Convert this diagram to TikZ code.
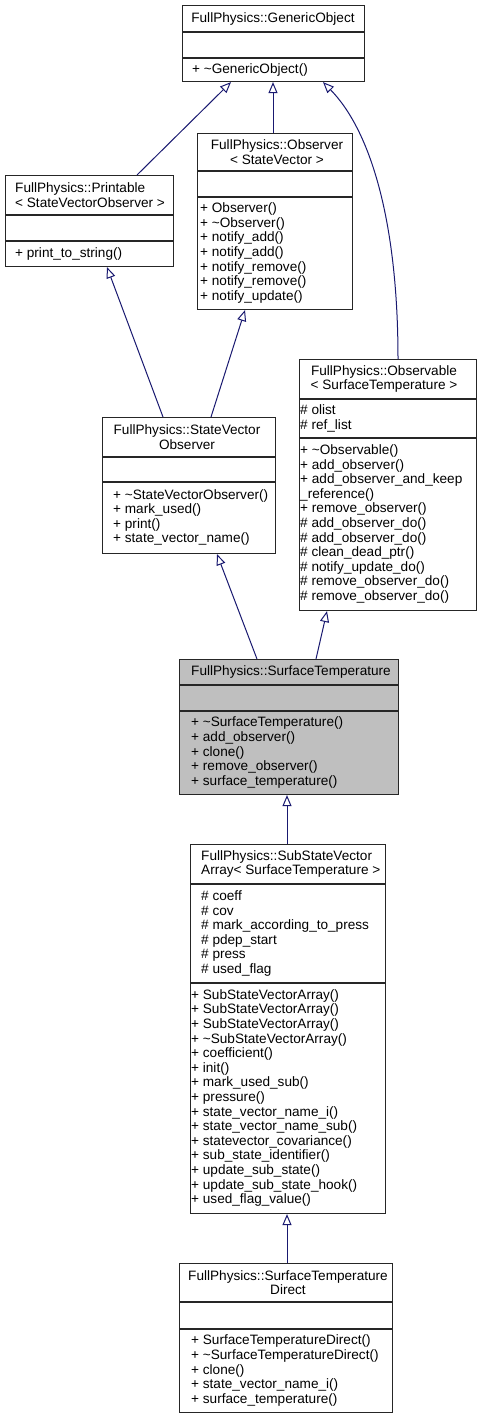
\documentclass[tikz,border=0pt]{standalone}
\usepackage{fontspec}
\setmainfont{Liberation Sans}
\usetikzlibrary{arrows.meta,calc}
\definecolor{edgeblue}{HTML}{191970}
\definecolor{grayfill}{HTML}{BFBFBF}
\begin{document}
\begin{tikzpicture}[x=1pt,y=-1pt,
  cls/.style={draw=black!85, line width=1.1pt, fill=white, inner sep=0pt, anchor=north west},
  sepline/.style={draw=black!85, line width=1.1pt},
  txt/.style={inner sep=0pt, font=\fontsize{13.6}{14.6}\selectfont},
  ltxt/.style={txt, anchor=west, align=left},
  ctxt/.style={txt, align=center},
  inh/.style={draw=edgeblue, line width=1pt, -{Triangle[open, length=11pt, width=9pt]}},
]
\fill[white] (0,0) rectangle (479,1419);
\useasboundingbox (0,0) rectangle (479,1419);

% GenericObject
\node[cls, minimum width=182pt, minimum height=76pt] (go) at (182,5) {};
\draw[sepline] (go.west |- 0,32) -- (go.east |- 0,32);
\draw[sepline] (go.west |- 0,58) -- (go.east |- 0,58);
\node[ctxt] (goT) at (273,18.5) {FullPhysics::GenericObject};
\node[ltxt] (goM) at (192,69.5) {+ \textasciitilde GenericObject()};

% Printable
\node[cls, minimum width=168pt, minimum height=91pt] (pr) at (5,175) {};
\draw[sepline] (pr.west |- 0,215) -- (pr.east |- 0,215);
\draw[sepline] (pr.west |- 0,241) -- (pr.east |- 0,241);
\node[ltxt] (prT) at (15,195) {FullPhysics::Printable\\< StateVectorObserver >};
\node[ltxt] (prM) at (15,253.5) {+ print\_to\_string()};

% Observer
\node[cls, minimum width=155pt, minimum height=176pt] (ob) at (197,133) {};
\draw[sepline] (ob.west |- 0,171) -- (ob.east |- 0,171);
\draw[sepline] (ob.west |- 0,197) -- (ob.east |- 0,197);
\node[ctxt] (obT) at (277,152) {FullPhysics::Observer\\< StateVector >};
\node[ltxt] (obM) at (200,253) {+ Observer()\\+ \textasciitilde Observer()\\+ notify\_add()\\+ notify\_add()\\+ notify\_remove()\\+ notify\_remove()\\+ notify\_update()};

% Observable
\node[cls, minimum width=177pt, minimum height=251pt] (obl) at (299,359) {};
\draw[sepline] (obl.west |- 0,399) -- (obl.east |- 0,399);
\draw[sepline] (obl.west |- 0,438) -- (obl.east |- 0,438);
\node[ctxt] (oblT) at (384,379) {FullPhysics::Observable\\< SurfaceTemperature >};
\node[ltxt] (oblA) at (300,418.5) {\# olist\\\# ref\_list};
\node[ltxt] (oblM) at (300,524) {+ \textasciitilde Observable()\\+ add\_observer()\\+ add\_observer\_and\_keep\\\_reference()\\+ remove\_observer()\\\# add\_observer\_do()\\\# add\_observer\_do()\\\# clean\_dead\_ptr()\\\# notify\_update\_do()\\\# remove\_observer\_do()\\\# remove\_observer\_do()};

% StateVectorObserver
\node[cls, minimum width=173pt, minimum height=136pt] (svo) at (102,417) {};
\draw[sepline] (svo.west |- 0,457) -- (svo.east |- 0,457);
\draw[sepline] (svo.west |- 0,482) -- (svo.east |- 0,482);
\node[ctxt] (svoT) at (187,437) {FullPhysics::StateVector\\Observer};
\node[ltxt] (svoM) at (113,517.5) {+ \textasciitilde StateVectorObserver()\\+ mark\_used()\\+ print()\\+ state\_vector\_name()};

% SurfaceTemperature
\node[cls, fill=grayfill, minimum width=219pt, minimum height=135pt] (st) at (179,659) {};
\draw[sepline] (st.west |- 0,685) -- (st.east |- 0,685);
\draw[sepline] (st.west |- 0,711) -- (st.east |- 0,711);
\node[ctxt] (stT) at (291,672) {FullPhysics::SurfaceTemperature};
\node[ltxt] (stM) at (191,752.5) {+ \textasciitilde SurfaceTemperature()\\+ add\_observer()\\+ clone()\\+ remove\_observer()\\+ surface\_temperature()};

% SubStateVectorArray
\node[cls, minimum width=195pt, minimum height=369pt] (ssva) at (190,844) {};
\draw[sepline] (ssva.west |- 0,884) -- (ssva.east |- 0,884);
\draw[sepline] (ssva.west |- 0,983) -- (ssva.east |- 0,983);
\node[ltxt] (ssvaT) at (201,864) {FullPhysics::SubStateVector\\Array< SurfaceTemperature >};
\node[ltxt] (ssvaA) at (201,933.5) {\# coeff\\\# cov\\\# mark\_according\_to\_press\\\# pdep\_start\\\# press\\\# used\_flag};
\node[ltxt] (ssvaM) at (191,1098) {+ SubStateVectorArray()\\+ SubStateVectorArray()\\+ SubStateVectorArray()\\+ \textasciitilde SubStateVectorArray()\\+ coefficient()\\+ init()\\+ mark\_used\_sub()\\+ pressure()\\+ state\_vector\_name\_i()\\+ state\_vector\_name\_sub()\\+ statevector\_covariance()\\+ sub\_state\_identifier()\\+ update\_sub\_state()\\+ update\_sub\_state\_hook()\\+ used\_flag\_value()};

% SurfaceTemperatureDirect
\node[cls, minimum width=213pt, minimum height=149pt] (std) at (179,1263) {};
\draw[sepline] (std.west |- 0,1302) -- (std.east |- 0,1302);
\draw[sepline] (std.west |- 0,1329) -- (std.east |- 0,1329);
\node[ctxt] (stdT) at (288,1282.5) {FullPhysics::SurfaceTemperature\\Direct};
\node[ltxt] (stdM) at (191,1370.5) {+ SurfaceTemperatureDirect()\\+ \textasciitilde SurfaceTemperatureDirect()\\+ clone()\\+ state\_vector\_name\_i()\\+ surface\_temperature()};

% inheritance edges
\draw[inh] (pr.north -| 137,0) -- (go.south -| 231,0);
\draw[inh] (ob.north -| 273,0) -- (go.south -| 273,0);
\draw[inh] (obl.north -| 398,0) .. controls (398,220) and (370,130) .. (go.south -| 323,0);
\draw[inh] (svo.north -| 163,0) -- (pr.south -| 107,0);
\draw[inh] (svo.north -| 211,0) -- (ob.south -| 245,0);
\draw[inh] (st.north -| 257,0) -- (svo.south -| 217,0);
\draw[inh] (st.north -| 316,0) -- (obl.south -| 327,0);
\draw[inh] (ssva.north -| 287,0) -- (st.south -| 287,0);
\draw[inh] (std.north -| 287,0) -- (ssva.south -| 287,0);
\end{tikzpicture}
\end{document}
